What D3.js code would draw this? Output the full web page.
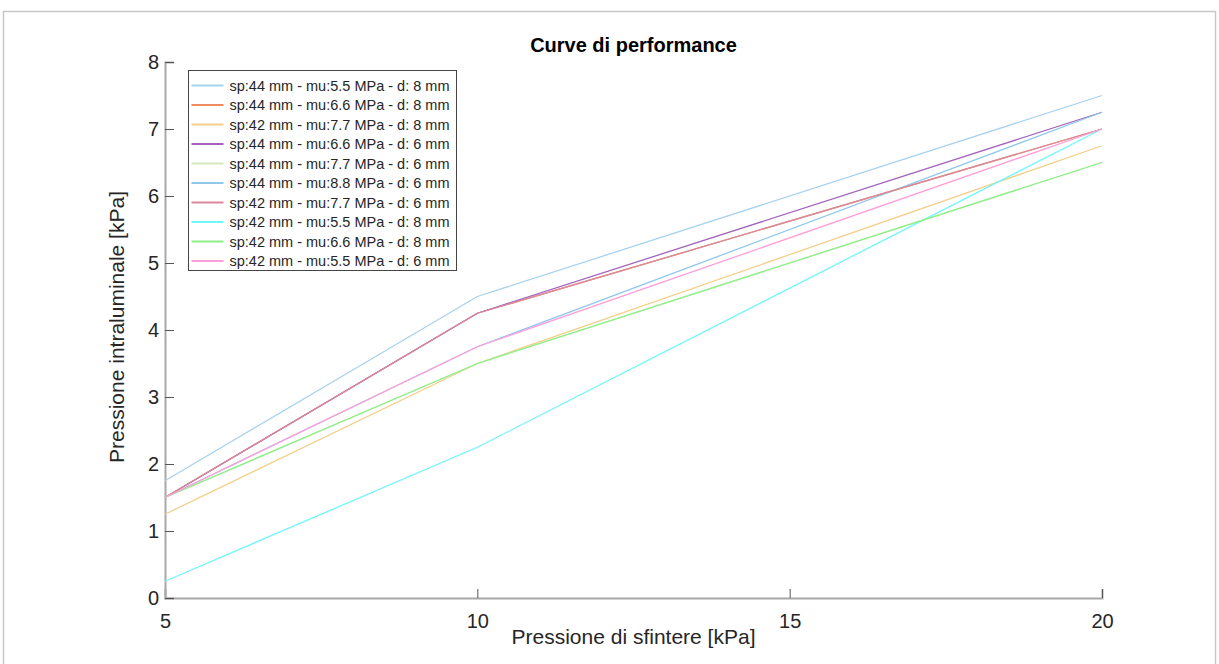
<!DOCTYPE html>
<html>
<head>
<meta charset="utf-8">
<script src="https://cdn.jsdelivr.net/npm/d3@7"></script>
<style>
  body { margin: 0; background: #fff; }
  svg { display: block; font-family: "Liberation Sans", Arial, sans-serif; }
</style>
</head>
<body>
<div id="svg_area"></div>
<script>
// x values (sphincter pressure, kPa)
var xValues = [5, 10, 20];

var seriesNames = [
  "sp:44 mm - mu:5.5 MPa - d: 8 mm",
  "sp:44 mm - mu:6.6 MPa - d: 8 mm",
  "sp:42 mm - mu:7.7 MPa - d: 8 mm",
  "sp:44 mm - mu:6.6 MPa - d: 6 mm",
  "sp:44 mm - mu:7.7 MPa - d: 6 mm",
  "sp:44 mm - mu:8.8 MPa - d: 6 mm",
  "sp:42 mm - mu:7.7 MPa - d: 6 mm",
  "sp:42 mm - mu:5.5 MPa - d: 8 mm",
  "sp:42 mm - mu:6.6 MPa - d: 8 mm",
  "sp:42 mm - mu:5.5 MPa - d: 6 mm"
];

// intraluminal pressure (kPa) for each series at xValues
var seriesValues = [
  [1.75, 4.5, 7.5],
  [1.5, 4.25, 7.0],
  [1.25, 3.5, 6.75],
  [1.5, 4.25, 7.25],
  [1.5, 3.5, 6.5],
  [1.5, 3.75, 7.25],
  [1.5, 4.25, 7.0],
  [0.25, 2.25, 7.0],
  [1.5, 3.5, 6.5],
  [1.5, 3.75, 7.0]
];

var seriesColors = [
  "#a8d2ee", "#ee8c5e", "#f3cf8a", "#a364bd", "#d3e8bd",
  "#8fc8ec", "#d98a9c", "#6ff6fa", "#8ef08a", "#ff9ed8"
];

var xTicks = [5, 10, 15, 20];
var yTicks = [0, 1, 2, 3, 4, 5, 6, 7, 8];

var W = 1219, H = 664;
var svg = d3.select('#svg_area').append("svg").attr("width", W).attr("height", H);

// outer figure frame
svg.append("rect")
  .attr("x", 3.5).attr("y", 11.5)
  .attr("width", 1212).attr("height", 660)
  .attr("fill", "#fff")
  .attr("stroke", "#c8c8c8")
  .attr("stroke-width", 1.5);

var margin = {top: 62, right: 117, bottom: 66, left: 165};
var svg_width = W - margin.left - margin.right;
var svg_height = H - margin.top - margin.bottom;
var g = svg.append("g").attr("transform", "translate(" + margin.left + "," + margin.top + ")");

var scaleX = d3.scaleLinear().domain([5, 20]).range([0, svg_width]);
var scaleY = d3.scaleLinear().domain([0, 8]).range([svg_height, 0]);

// axes (ticks point inward, like MATLAB)
var xAxis = g.append("g")
  .attr("transform", "translate(0," + svg_height + ")")
  .call(d3.axisBottom(scaleX).tickValues(xTicks).tickSize(-9).tickPadding(16).tickFormat(d3.format("d")));

var yAxis = g.append("g")
  .call(d3.axisLeft(scaleY).tickValues(yTicks).tickSize(-9).tickPadding(6).tickFormat(d3.format("d")));

[xAxis, yAxis].forEach(function(ax) {
  ax.select(".domain").attr("stroke", "#a8a8a8").attr("stroke-width", 2);
  ax.selectAll(".tick line").attr("stroke", "#555").attr("stroke-width", 1);
  ax.selectAll(".tick text")
    .attr("fill", "#262626")
    .attr("font-size", "20px")
    .attr("font-family", "Liberation Sans, Arial, sans-serif");
});

// lines
var line = d3.line()
  .x(function(d, i) { return scaleX(xValues[i]); })
  .y(function(d) { return scaleY(d); });

seriesValues.forEach(function(vals, i) {
  g.append("path")
    .datum(vals)
    .attr("fill", "none")
    .attr("stroke", seriesColors[i])
    .attr("stroke-width", 1.3)
    .attr("d", line);
});

// title + axis labels
svg.append("text")
  .attr("x", margin.left + svg_width / 2)
  .attr("y", 52)
  .attr("text-anchor", "middle")
  .attr("font-size", "20px")
  .attr("font-weight", "bold")
  .attr("fill", "#000")
  .text("Curve di performance");

svg.append("text")
  .attr("x", margin.left + svg_width / 2)
  .attr("y", 644)
  .attr("text-anchor", "middle")
  .attr("font-size", "21px")
  .attr("fill", "#262626")
  .text("Pressione di sfintere [kPa]");

svg.append("text")
  .attr("transform", "translate(124," + (margin.top + svg_height / 2 - 3) + ") rotate(-90)")
  .attr("text-anchor", "middle")
  .attr("font-size", "21px")
  .attr("fill", "#262626")
  .text("Pressione intraluminale [kPa]");

// legend
var legX = 188.5, legY = 70.5, legW = 268, legH = 200;
svg.append("rect")
  .attr("x", legX).attr("y", legY)
  .attr("width", legW).attr("height", legH)
  .attr("fill", "#fff")
  .attr("stroke", "#444")
  .attr("stroke-width", 1);

for (var i = 0; i < seriesNames.length; i++) {
  var yy = legY + 15 + 19.5 * i;
  svg.append("line")
    .attr("x1", legX + 3).attr("x2", legX + 35)
    .attr("y1", yy).attr("y2", yy)
    .attr("stroke", seriesColors[i])
    .attr("stroke-width", 2);
  svg.append("text")
    .attr("x", legX + 41)
    .attr("y", yy + 5)
    .attr("font-size", "14.5px")
    .attr("fill", "#262626")
    .text(seriesNames[i]);
}
</script>
</body>
</html>
